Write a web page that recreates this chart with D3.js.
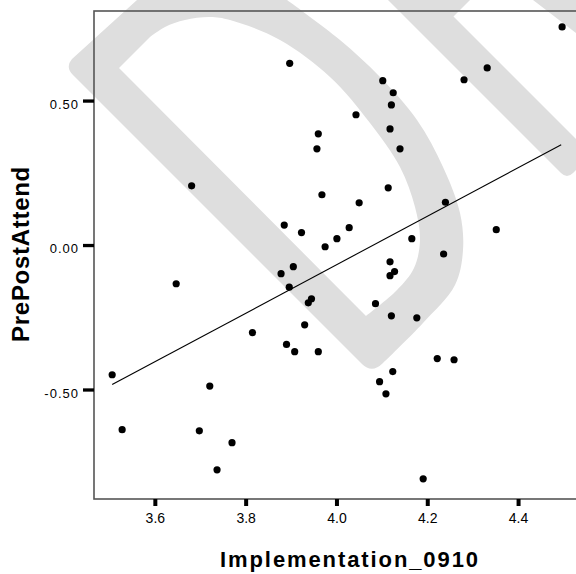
<!DOCTYPE html>
<html>
<head>
  <meta charset="utf-8">
  <style>
    body { margin: 0; background: #ffffff; }
    svg { display: block; }
    .tick-y text, .tick-x text { font-family: "Liberation Sans", Arial, sans-serif; fill: #000; }
    .title { font-family: "Liberation Sans", Arial, sans-serif; font-weight: bold; fill: #000; }
  </style>
</head>
<body>
  <div id="chart"></div>
  <script src="https://cdn.jsdelivr.net/npm/d3@7"></script>
  <script>
    // Implementation_0910 (x) vs PrePostAttend (y)
    var implX = [4.497, 3.897, 4.332, 4.281, 4.102, 4.125, 4.121, 4.043, 3.960, 4.118,
                 3.957, 4.140, 3.681, 4.114, 3.968, 4.050, 4.240, 3.885, 3.923, 4.028,
                 4.001, 3.975, 4.166, 4.352, 4.236, 3.905, 3.878, 4.118, 4.128, 4.118,
                 3.896, 3.647, 3.945, 3.938, 3.815, 4.086, 4.121, 4.177, 3.930, 3.890,
                 3.908, 3.960, 4.222, 4.259, 4.124, 4.095, 4.109, 3.506, 3.721, 3.528,
                 3.698, 3.770, 3.737, 4.191];
    var prePost = [0.755, 0.629, 0.613, 0.572, 0.569, 0.527, 0.485, 0.451, 0.385, 0.402,
                   0.333, 0.333, 0.205, 0.198, 0.174, 0.146, 0.148, 0.069, 0.043, 0.060,
                   0.022, -0.006, 0.022, 0.053, -0.031, -0.075, -0.099, -0.058, -0.092, -0.106,
                   -0.146, -0.134, -0.186, -0.200, -0.303, -0.203, -0.245, -0.252, -0.276, -0.344,
                   -0.369, -0.369, -0.393, -0.397, -0.438, -0.473, -0.515, -0.449, -0.488, -0.639,
                   -0.643, -0.684, -0.778, -0.809];

    // fitted line end points
    var fitX = [3.506, 4.495];
    var fitY = [-0.483, 0.347];

    var xTicks = [3.6, 3.8, 4.0, 4.2, 4.4];
    var xTickLabels = ['3.6', '3.8', '4.0', '4.2', '4.4'];
    var yTicks = [-0.5, 0, 0.5];
    var yTickLabels = ['-0.50', '0.00', '0.50'];

    var xDomain = [3.466, 4.532];
    var yDomain = [-0.879, 0.810];

    var width = 576, height = 574;
    var plotL = 94, plotR = 578, plotT = 11, plotB = 499;

    var svg = d3.select('#chart').append('svg')
      .attr('width', width)
      .attr('height', height)
      .style('background', '#ffffff');

    // DRAFT watermark (grey letters behind the plot)
    var smooth = d3.line().curve(d3.curveCatmullRom);
    function cont(pts) { return 'L' + smooth(pts).slice(1); }

    var dOuter = 'M73,75 Q65,67 72,59 L137,0 L160,-25 L270,-25 L287,0' +
      cont([[287, 0], [340, 40], [380, 77], [417, 120], [443, 167], [460, 213], [463, 250], [455, 285], [423, 323], [383, 363]]) +
      ' Q372,374 362,364 Z';
    var dInner = 'M119,68 L150,37' +
      cont([[150, 37], [165, 27], [185, 20], [210, 17], [230, 20], [280, 40], [330, 77], [370, 123], [400, 167], [415, 207], [420, 240], [414, 268], [397, 290], [366, 316]]) +
      ' Z';
    var wm = svg.append('g').attr('fill', '#dedede');
    wm.append('path').attr('d', dOuter + ' ' + dInner).attr('fill-rule', 'evenodd');
    wm.append('path').attr('d', 'M360,-28 L561,173 Q567,179 573,173 L591.5,154.5 L453.5,16.5 L471,-1 L480,-30 Z');
    wm.append('path').attr('d', 'M520,-10 L600,51.4 L620,-40 L540,-60 Z');

    var x = d3.scaleLinear().domain(xDomain).range([plotL, plotR]);
    var y = d3.scaleLinear().domain(yDomain).range([plotB, plotT]);

    // frame
    svg.append('rect')
      .attr('x', plotL)
      .attr('y', plotT)
      .attr('width', plotR - plotL)
      .attr('height', plotB - plotT)
      .attr('fill', 'none')
      .attr('stroke', '#555555')
      .attr('stroke-width', 1.6);

    // y axis
    var yAxis = svg.append('g')
      .attr('class', 'tick-y')
      .attr('transform', 'translate(' + plotL + ',0)')
      .call(d3.axisLeft(y).tickValues(yTicks).tickSize(11).tickFormat(function (d, i) { return yTickLabels[i]; }));
    yAxis.select('.domain').remove();
    yAxis.selectAll('line').attr('stroke', '#000').attr('stroke-width', 3.3);
    yAxis.selectAll('text')
      .attr('x', -15)
      .attr('dy', 7.7)
      .attr('text-anchor', 'end')
      .style('font-size', '13px')
      .style('letter-spacing', '1px');

    // x axis
    var xAxis = svg.append('g')
      .attr('class', 'tick-x')
      .attr('transform', 'translate(0,' + plotB + ')')
      .call(d3.axisBottom(x).tickValues(xTicks).tickSize(7).tickFormat(function (d, i) { return xTickLabels[i]; }));
    xAxis.select('.domain').remove();
    xAxis.selectAll('line').attr('stroke', '#000').attr('stroke-width', 4);
    xAxis.selectAll('text')
      .attr('y', 24)
      .attr('dy', 0)
      .style('font-size', '14px');

    // fit line
    svg.append('line')
      .attr('x1', x(fitX[0]))
      .attr('y1', y(fitY[0]))
      .attr('x2', x(fitX[1]))
      .attr('y2', y(fitY[1]))
      .attr('stroke', '#000')
      .attr('stroke-width', 1.1);

    // points
    svg.append('g').selectAll('circle')
      .data(implX)
      .enter()
      .append('circle')
      .attr('cx', function (d) { return x(d); })
      .attr('cy', function (d, i) { return y(prePost[i]); })
      .attr('r', 3.6)
      .attr('fill', '#000');

    // titles
    svg.append('text')
      .attr('class', 'title')
      .attr('x', 350)
      .attr('y', 566.7)
      .attr('text-anchor', 'middle')
      .style('font-size', '22px')
      .style('letter-spacing', '1.9px')
      .text('Implementation_0910');

    svg.append('text')
      .attr('class', 'title')
      .attr('transform', 'translate(29.3,254) rotate(-90)')
      .attr('text-anchor', 'middle')
      .style('font-size', '24px')
      .style('letter-spacing', '0.7px')
      .text('PrePostAttend');
  </script>
</body>
</html>
